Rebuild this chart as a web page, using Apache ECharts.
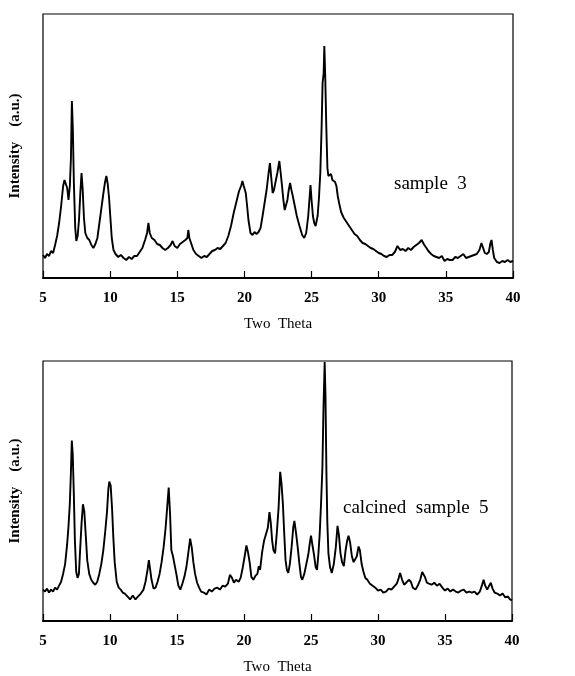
<!DOCTYPE html>
<html><head><meta charset="utf-8">
<script src="https://cdn.jsdelivr.net/npm/echarts@6/dist/echarts.min.js"></script>
<style>html,body{margin:0;padding:0;background:#fff}#c{width:575px;height:676px}</style>
</head><body><div id="c"></div>
<script>
// X axis tick settings
const xMin = 5, xMax = 40, xStep = 5;

// sample 3 (2-theta, intensity in arbitrary units)
const theta3 = [5.0,5.15,5.3,5.45,5.6,5.75,5.9,6.05,6.2,6.35,6.5,6.6,6.7,6.8,6.9,7.0,7.08,7.15,7.22,7.3,7.4,7.48,7.58,7.68,7.78,7.87,7.95,8.05,8.15,8.3,8.45,8.6,8.75,8.9,9.05,9.2,9.35,9.5,9.62,9.72,9.82,9.92,10.02,10.12,10.25,10.4,10.6,10.8,11.0,11.2,11.4,11.6,11.8,12.0,12.2,12.4,12.6,12.75,12.85,12.95,13.1,13.3,13.5,13.7,13.9,14.1,14.3,14.5,14.65,14.8,15.0,15.2,15.4,15.6,15.75,15.82,15.9,16.05,16.2,16.4,16.6,16.8,17.0,17.2,17.4,17.6,17.8,18.0,18.2,18.4,18.6,18.8,19.0,19.2,19.4,19.6,19.75,19.85,19.95,20.1,20.2,20.3,20.45,20.6,20.75,20.9,21.05,21.2,21.35,21.5,21.65,21.8,21.9,22.0,22.1,22.2,22.3,22.45,22.6,22.7,22.8,22.9,23.0,23.1,23.2,23.3,23.4,23.5,23.6,23.75,23.9,24.1,24.3,24.45,24.6,24.75,24.85,24.92,25.0,25.1,25.2,25.3,25.45,25.55,25.65,25.75,25.82,25.9,25.95,26.02,26.1,26.18,26.25,26.35,26.45,26.55,26.65,26.75,26.85,26.95,27.05,27.2,27.4,27.6,27.8,28.0,28.2,28.4,28.6,28.8,29.0,29.2,29.4,29.6,29.8,30.0,30.2,30.4,30.6,30.8,31.0,31.2,31.4,31.6,31.8,32.0,32.2,32.4,32.6,32.8,33.0,33.2,33.35,33.5,33.7,33.9,34.1,34.3,34.5,34.7,34.9,35.1,35.3,35.5,35.7,35.9,36.1,36.3,36.5,36.7,36.9,37.1,37.3,37.5,37.65,37.75,37.9,38.05,38.2,38.32,38.4,38.5,38.6,38.8,39.0,39.2,39.4,39.6,39.8,40.0];
const int3 = [23,20,24,22,27,25,33,42,55,72,92,98,94,90,78,92,120,177,150,95,50,37,42,58,85,105,90,60,45,40,38,33,30,34,40,55,70,85,96,102,94,80,60,40,28,24,21,23,20,18,21,19,22,22,26,30,38,45,55,45,40,38,34,33,30,28,30,33,37,32,30,34,36,38,40,48,40,34,28,24,22,20,22,21,24,27,28,30,29,32,35,42,52,65,76,87,92,97,92,85,72,58,45,43,46,44,46,50,62,75,88,105,115,100,85,88,95,105,117,105,92,78,68,70,78,88,95,88,82,72,62,52,43,40,45,62,80,93,78,62,55,52,62,80,105,152,195,205,232,200,150,110,102,100,104,98,100,96,92,82,75,66,60,56,52,48,44,42,38,35,34,32,30,29,27,25,24,22,21,23,23,26,32,28,29,27,30,28,31,33,35,38,34,31,27,24,22,21,20,22,17,19,18,18,21,20,22,24,20,21,22,23,24,28,35,33,25,24,26,35,38,28,20,16,15,17,16,18,16,17];

// calcined sample 5
const theta5 = [5.0,5.15,5.3,5.45,5.6,5.75,5.9,6.05,6.2,6.35,6.5,6.65,6.8,6.9,7.0,7.08,7.15,7.22,7.3,7.38,7.48,7.58,7.68,7.78,7.88,7.98,8.08,8.18,8.3,8.45,8.6,8.75,8.9,9.05,9.2,9.35,9.5,9.65,9.78,9.88,9.95,10.05,10.15,10.25,10.35,10.5,10.65,10.8,10.95,11.1,11.3,11.5,11.7,11.9,12.1,12.3,12.5,12.65,12.8,12.9,13.0,13.1,13.25,13.4,13.55,13.7,13.85,14.0,14.15,14.28,14.38,14.48,14.58,14.7,14.82,14.95,15.1,15.25,15.4,15.55,15.7,15.85,15.98,16.1,16.22,16.35,16.5,16.65,16.8,17.0,17.2,17.4,17.6,17.8,18.0,18.2,18.4,18.6,18.8,18.95,19.1,19.25,19.4,19.6,19.75,19.9,20.05,20.18,20.3,20.42,20.55,20.7,20.85,21.0,21.1,21.2,21.35,21.5,21.65,21.78,21.9,22.0,22.1,22.2,22.32,22.45,22.58,22.7,22.8,22.9,23.0,23.1,23.2,23.3,23.42,23.55,23.68,23.76,23.88,24.0,24.12,24.25,24.35,24.5,24.65,24.8,24.9,25.0,25.1,25.22,25.35,25.45,25.55,25.65,25.75,25.85,25.93,26.02,26.08,26.15,26.22,26.3,26.42,26.55,26.7,26.85,26.98,27.08,27.2,27.32,27.45,27.58,27.7,27.8,27.92,28.05,28.18,28.3,28.42,28.55,28.65,28.78,28.92,29.05,29.2,29.4,29.6,29.8,30.0,30.2,30.4,30.6,30.8,31.0,31.2,31.4,31.55,31.65,31.8,31.95,32.1,32.3,32.45,32.6,32.8,33.0,33.15,33.3,33.4,33.5,33.65,33.8,34.0,34.2,34.4,34.6,34.8,35.0,35.2,35.4,35.6,35.8,36.0,36.2,36.4,36.6,36.8,37.0,37.2,37.4,37.6,37.75,37.88,38.0,38.15,38.3,38.42,38.55,38.7,38.9,39.1,39.3,39.5,39.7,39.85,40.0];
const int5 = [32,30,33,29,32,30,34,32,36,40,48,58,78,96,119,150,184,170,130,82,50,44,48,75,100,119,112,90,62,48,42,39,37,40,48,58,72,92,112,135,142,138,116,85,60,40,34,32,29,28,25,22,26,22,25,28,32,40,52,62,52,42,33,34,40,48,60,75,95,118,136,110,72,66,64,48,36,32,38,45,55,70,84,75,60,48,39,34,30,29,27,32,30,33,34,32,36,35,38,47,44,39,42,40,44,54,66,77,70,60,45,42,46,48,56,52,70,82,89,95,111,100,82,72,69,90,115,152,140,120,90,62,52,49,58,75,96,102,90,76,60,45,42,48,58,68,78,87,78,68,55,52,68,89,120,156,216,264,230,152,100,69,55,49,58,75,97,88,69,60,56,72,82,87,80,66,60,58,66,76,72,58,50,44,42,38,36,34,31,32,29,30,33,32,35,38,44,49,42,37,39,42,40,34,32,37,42,50,52,45,39,38,37,39,36,38,34,31,33,30,32,30,29,31,32,29,30,29,30,27,30,36,42,36,32,36,39,33,29,28,26,28,24,25,22,21];

const zip = (xs, ys) => xs.map((x, i) => [x, ys[i]]);
const serif = '"Liberation Serif", "DejaVu Serif", serif';

function xAxisCfg(gridIndex) {
  return {
    type: 'value', gridIndex, min: xMin, max: xMax, interval: xStep,
    name: 'Two  Theta', nameLocation: 'middle', nameGap: 39,
    nameTextStyle: { fontFamily: serif, fontSize: 15, color: '#000' },
    axisLine: { lineStyle: { color: '#000', width: 2 } },
    axisTick: { inside: true, length: 7, lineStyle: { color: '#000', width: 1.2 } },
    axisLabel: { fontFamily: serif, fontSize: 15, fontWeight: 'bold', color: '#000', margin: 13 },
    splitLine: { show: false }
  };
}
function yAxisCfg(gridIndex, max) {
  return {
    type: 'value', gridIndex, min: 0, max,
    name: 'Intensity    (a.u.)', nameLocation: 'middle', nameGap: 20, nameRotate: 90,
    nameTextStyle: { fontFamily: serif, fontSize: 15, fontWeight: 'bold', color: '#000' },
    axisLine: { show: false }, axisTick: { show: false }, axisLabel: { show: false },
    splitLine: { show: false }
  };
}

const chart = echarts.init(document.getElementById('c'), null, { renderer: 'canvas' });
chart.setOption({
  animation: false,
  backgroundColor: '#fff',
  grid: [
    { left: 42, top: 14, width: 471, height: 264, show: true, borderColor: '#000', borderWidth: 1.2 },
    { left: 41, top: 361, width: 471, height: 265, show: true, borderColor: '#000', borderWidth: 1.2 }
  ],
  xAxis: [xAxisCfg(0), xAxisCfg(1)],
  yAxis: [yAxisCfg(0, 264), yAxisCfg(1, 265)],
  series: [
    { type: 'line', xAxisIndex: 0, yAxisIndex: 0, data: zip(theta3, int3), showSymbol: false,
      lineStyle: { color: '#000', width: 1.9 } },
    { type: 'line', xAxisIndex: 1, yAxisIndex: 1, data: zip(theta5, int5), showSymbol: false,
      lineStyle: { color: '#000', width: 1.9 } }
  ],
  graphic: [
    { type: 'text', left: 394, top: 175, style: { text: 'sample  3', font: '19px ' + serif, fill: '#000' } },
    { type: 'text', left: 343, top: 499, style: { text: 'calcined  sample  5', font: '19px ' + serif, fill: '#000' } }
  ]
});
</script>
</body></html>
